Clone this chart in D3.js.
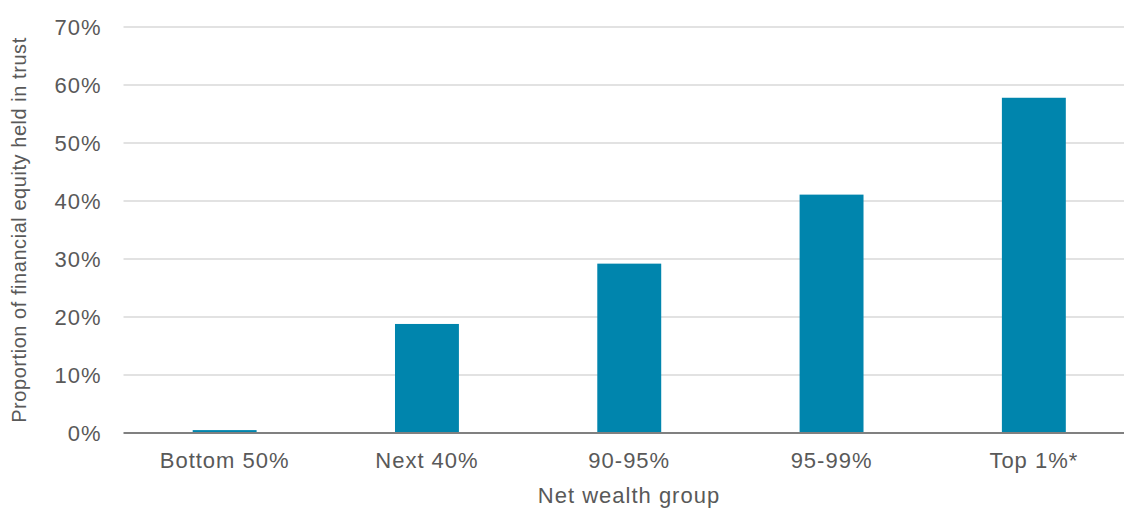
<!DOCTYPE html>
<html><head><meta charset="utf-8">
<script src="https://cdn.jsdelivr.net/npm/d3@7"></script>
<style>body{margin:0;background:#fff}svg{display:block;font-family:"Liberation Sans",Arial,sans-serif}</style>
</head><body><svg id="c" width="1124" height="509"></svg>
<script>
const categories = ["Bottom 50%", "Next 40%", "90-95%", "95-99%", "Top 1%*"];
const values = [0.005, 0.188, 0.292, 0.411, 0.578];
const yTicks = [0, 0.1, 0.2, 0.3, 0.4, 0.5, 0.6, 0.7];

(function () {
const svg = d3.select("#c");
const mLeft = 123.5, mRight = 1135, mTop = 27, mBottom = 433;
const x = d3.scaleBand().domain(categories).range([mLeft, mRight]).paddingInner(0.684).paddingOuter(0.342);
const y = d3.scaleLinear().domain([0, 0.7]).range([mBottom, mTop]);

svg.append("g").selectAll("line").data(yTicks.filter(d => d > 0)).join("line")
  .attr("x1", mLeft).attr("x2", 1124).attr("y1", d => y(d)).attr("y2", d => y(d))
  .attr("stroke", "#d9d9d9").attr("stroke-width", 1.5);

svg.append("g").selectAll("rect").data(values).join("rect")
  .attr("x", (d, i) => x(categories[i])).attr("width", x.bandwidth())
  .attr("y", d => y(d)).attr("height", d => mBottom - y(d))
  .attr("fill", "#0085ad");

svg.append("line").attr("x1", mLeft).attr("x2", 1124).attr("y1", mBottom).attr("y2", mBottom)
  .attr("stroke", "#808080").attr("stroke-width", 2);

const yAxis = d3.axisLeft(y).tickValues(yTicks).tickFormat(d3.format(".0%")).tickSize(0).tickPadding(22);
const ga = svg.append("g").attr("transform", `translate(${mLeft},0)`).call(yAxis);
ga.select(".domain").remove();
ga.selectAll("text").attr("font-size", 22).attr("letter-spacing", 1).attr("fill", "#595959")
  .attr("font-family", "Liberation Sans, Arial, sans-serif");

const xAxis = d3.axisBottom(x).tickSize(0).tickPadding(19);
const gx = svg.append("g").attr("transform", `translate(0,${mBottom})`).call(xAxis);
gx.select(".domain").remove();
gx.selectAll("text").attr("font-size", 22).attr("letter-spacing", 1).attr("fill", "#595959")
  .attr("font-family", "Liberation Sans, Arial, sans-serif");

svg.append("text").attr("x", 629).attr("y", 503).attr("text-anchor", "middle")
  .attr("font-size", 22).attr("letter-spacing", 1).attr("fill", "#595959").text("Net wealth group");
svg.append("text").attr("transform", "translate(26,230) rotate(-90)").attr("text-anchor", "middle")
  .attr("font-size", 20).attr("letter-spacing", 0.55).attr("fill", "#595959").text("Proportion of financial equity held in trust");
})();
</script></body></html>
